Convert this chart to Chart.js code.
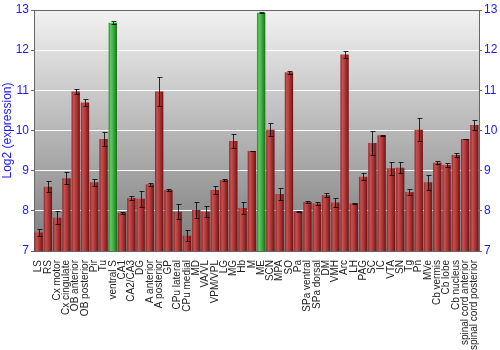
<!DOCTYPE html>
<html>
<head>
<meta charset="utf-8">
<script src="https://cdn.jsdelivr.net/npm/chart.js@4.4.0/dist/chart.umd.min.js"></script>
<style>
  html, body { margin: 0; padding: 0; background: #fff; }
  canvas { display: block; }
</style>
</head>
<body>
<canvas id="exprChart" width="500" height="350"></canvas>
<script>
// regions (x axis categories)
const regions = [
  'LS', 'RS', 'Cx motor', 'Cx cingulate', 'OB anterior', 'OB posterior', 'Pir', 'Tu',
  'ventral S', 'CA1', 'CA2/CA3', 'DG', 'A anterior', 'A posterior', 'GP', 'CPu lateral',
  'CPu medial', 'MD', 'VA/VL', 'VPM/VPL', 'LG', 'MG', 'Hb', 'M', 'ME', 'SCN', 'MPA', 'SO',
  'Pa', 'SPa ventral', 'SPa dorsal', 'DM', 'VMH', 'Arc', 'LH', 'PAG', 'SC', 'IC', 'VTA',
  'SN', 'Tg', 'Pn', 'MVe', 'Cb vermis', 'Cb lobe', 'Cb nucleus', 'spinal cord anterior',
  'spinal cord posterior'
];

// log2 expression (bar heights)
const expression = [
  7.46, 8.60, 7.83, 8.81, 10.97, 10.70, 8.71, 9.79,
  12.68, 7.95, 8.32, 8.30, 8.66, 10.97, 8.52, 7.98,
  7.38, 8.02, 7.98, 8.52, 8.77, 9.74, 8.07, 9.49, 12.93, 10.02, 8.42, 11.45,
  7.99, 8.22, 8.18, 8.39, 8.21, 11.89, 8.18, 8.85, 9.69, 9.88, 9.06,
  9.07, 8.47, 10.02, 8.71, 9.20, 9.14, 9.39, 9.79,
  10.14
];

// error (+/-)
const errors = [
  0.09, 0.14, 0.16, 0.15, 0.06, 0.09, 0.08, 0.17,
  0.04, 0.03, 0.05, 0.20, 0.04, 0.36, 0.02, 0.18,
  0.14, 0.19, 0.14, 0.09, 0.03, 0.18, 0.16, 0.01, 0.01, 0.16, 0.14, 0.04,
  0.01, 0.02, 0.03, 0.05, 0.11, 0.08, 0.01, 0.08, 0.30, 0.01, 0.16,
  0.14, 0.08, 0.28, 0.18, 0.03, 0.06, 0.05, 0.01,
  0.12
];

// regions drawn in green
const highlighted = ['ventral S', 'ME'];

const yTicks = [7, 8, 9, 10, 11, 12, 13];

const FONT = 'Liberation Sans, Arial, sans-serif';
const BAR_PCT = 0.9;
const redStops = ['#8a2828', '#c85050', '#aa3434', '#6c1414'];
const greenStops = ['#2a8a2a', '#5ccc5c', '#3aaa3a', '#1c6c1c'];

// cylinder-like shading for each bar
function barFill(c) {
  const chart = c.chart;
  const stops = highlighted.includes(regions[c.dataIndex]) ? greenStops : redStops;
  if (!chart.chartArea || !chart.scales.x) return stops[1];
  const xs = chart.scales.x;
  const x = xs.getPixelForValue(c.dataIndex);
  const half = xs.width / regions.length * BAR_PCT / 2;
  const g = chart.ctx.createLinearGradient(x - half, 0, x + half, 0);
  g.addColorStop(0, stops[0]);
  g.addColorStop(0.25, stops[1]);
  g.addColorStop(0.6, stops[2]);
  g.addColorStop(1, stops[3]);
  return g;
}

// gray gradient behind the plot
const plotBackground = {
  id: 'plotBackground',
  beforeDraw(chart) {
    const { ctx, chartArea: a } = chart;
    const g = ctx.createLinearGradient(0, a.top, 0, a.bottom);
    g.addColorStop(0, '#f2f2f2');
    g.addColorStop(1, '#7c7c7c');
    ctx.save();
    ctx.fillStyle = g;
    ctx.fillRect(a.left, a.top, a.right - a.left, a.bottom - a.top);
    ctx.restore();
  }
};

// error bars from the scales
const errorBars = {
  id: 'errorBars',
  afterDatasetsDraw(chart) {
    const { ctx } = chart;
    const ys = chart.scales.y;
    const meta = chart.getDatasetMeta(0);
    ctx.save();
    ctx.strokeStyle = 'rgba(0,0,0,0.8)';
    ctx.lineWidth = 1;
    meta.data.forEach((bar, i) => {
      const x = Math.round(bar.x) + 0.5;
      const top = Math.round(ys.getPixelForValue(expression[i] + errors[i])) + 0.5;
      const bot = Math.round(ys.getPixelForValue(expression[i] - errors[i])) + 0.5;
      ctx.beginPath();
      ctx.moveTo(x, top); ctx.lineTo(x, bot);
      ctx.moveTo(x - 2, top); ctx.lineTo(x + 3, top);
      ctx.moveTo(x - 2, bot); ctx.lineTo(x + 3, bot);
      ctx.stroke();
    });
    ctx.restore();
  }
};

const ctx = document.getElementById('exprChart').getContext('2d');
new Chart(ctx, {
  type: 'bar',
  data: {
    labels: regions,
    datasets: [{
      data: expression,
      backgroundColor: barFill,
      borderWidth: 0,
      barPercentage: BAR_PCT,
      categoryPercentage: 1
    }]
  },
  options: {
    responsive: false,
    animation: false,
    devicePixelRatio: 1,
    layout: { padding: { top: 10, left: 0, right: 0, bottom: 0 } },
    plugins: { legend: { display: false }, tooltip: { enabled: false } },
    scales: {
      x: {
        grid: { display: false },
        border: { color: '#666' },
        ticks: {
          autoSkip: false, minRotation: 90, maxRotation: 90, padding: 1,
          color: '#222', font: { family: FONT, size: 10 }
        },
        afterFit(s) { s.height = 99; }
      },
      y: {
        position: 'left',
        min: 7, max: 13,
        afterBuildTicks(s) { s.ticks = yTicks.map(v => ({ value: v })); },
        ticks: { color: '#1a1aff', font: { family: FONT, size: 12 }, padding: 2 },
        title: {
          display: true, text: 'Log2 (expression)', color: '#1a1aff',
          font: { family: FONT, size: 12 }, padding: { top: 0, bottom: 0 }
        },
        grid: {
          color: c => (c.tick && c.tick.value === 13 ? '#666' : '#ffffff'),
          tickColor: '#666', tickLength: 3
        },
        border: { color: '#666' },
        afterFit(s) { s.width = 34; }
      },
      y2: {
        position: 'right',
        min: 7, max: 13,
        afterBuildTicks(s) { s.ticks = yTicks.map(v => ({ value: v })); },
        ticks: { color: '#1a1aff', font: { family: FONT, size: 12 }, padding: 2 },
        grid: { drawOnChartArea: false, tickColor: '#666', tickLength: 3 },
        border: { color: '#666' },
        afterFit(s) { s.width = 21; }
      }
    }
  },
  plugins: [plotBackground, errorBars]
});
</script>
</body>
</html>
